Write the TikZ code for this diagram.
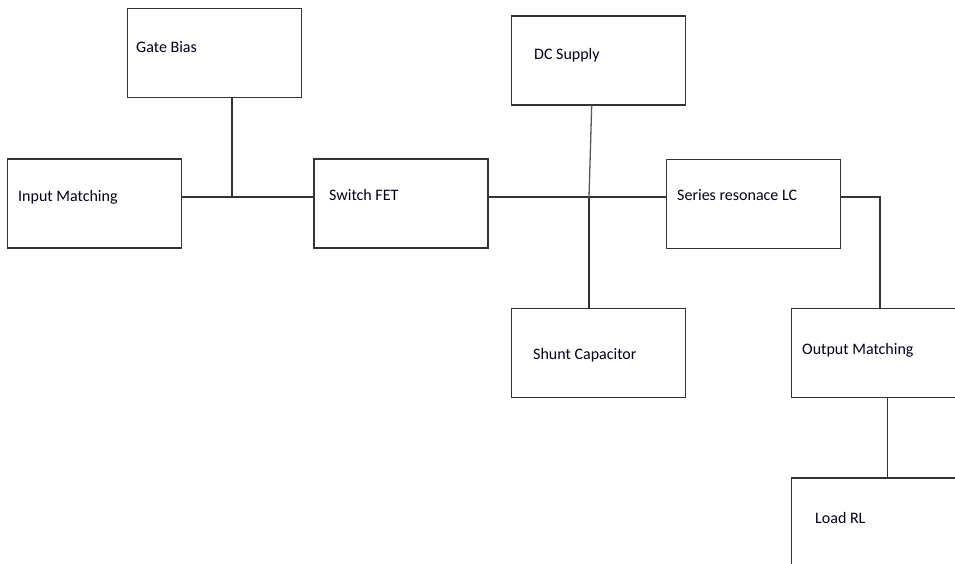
\documentclass[tikz,border=0pt]{standalone}
\usepackage{fontspec}
\setmainfont{Carlito}
\begin{document}
\begin{tikzpicture}[x=1pt,y=-1pt,
  blk/.style={draw=black!80, line width=1.3pt, rectangle, minimum width=174pt, minimum height=89pt, inner sep=0pt, outer sep=0pt, anchor=north west},
  txt/.style={anchor=west, inner sep=0pt, font=\fontsize{16}{18}\selectfont, text=black!90!blue},
  wire/.style={draw=black!80, line width=1.3pt}]
\useasboundingbox (0,0) rectangle (955,564);
\clip (0,0) rectangle (955,564);
\fill[white] (0,0) rectangle (955,564);
% boxes
\node[blk] (gb) at (127.5,8.5) {};
\node[blk] (im) at (7.5,159) {};
\node[blk] (fet) at (314,159) {};
\node[blk] (dc) at (511.5,16) {};
\node[blk] (lc) at (666.7,159.3) {};
\node[blk] (sc) at (511.7,308.7) {};
\node[blk] (om) at (791.7,308.7) {};
\node[blk] (rl) at (791.5,478) {};
% texts
\node[txt] (tgb) at (136,47) {Gate Bias};
\node[txt] (tim) at (18,197) {Input Matching};
\node[txt] (tfet) at (329,195) {Switch FET};
\node[txt] (tdc) at (534,55) {DC Supply};
\node[txt] (tlc) at (677,195) {Series resonace LC};
\node[txt] (tsc) at (533,355) {Shunt Capacitor};
\node[txt] (tom) at (802,350) {Output Matching};
\node[txt] (trl) at (815,518) {Load RL};
% junctions
\coordinate (jg) at (232,197);
\coordinate (jd) at (589,197);
\coordinate (dct) at (591.7,105);
\coordinate (lcr) at (840.7,197);
\coordinate (bend) at (880,197);
\coordinate (omt) at (880,308.7);
\coordinate (omb) at (887.5,397.7);
\coordinate (rlt) at (887.5,478);
% connectors
\draw[wire] (im.east |- jg) -- (fet.west |- jg);
\draw[wire] (gb.south -| jg) -- (jg);
\draw[wire] (fet.east |- jd) -- (lc.west |- jd);
\draw[wire, draw=black!65] (dct) -- (jd);
\draw[wire] (jd) -- (sc.north -| jd);
\draw[wire] (lcr) -- (bend) -- (omt);
\draw[wire] (omb) -- (rlt);
\end{tikzpicture}
\end{document}
